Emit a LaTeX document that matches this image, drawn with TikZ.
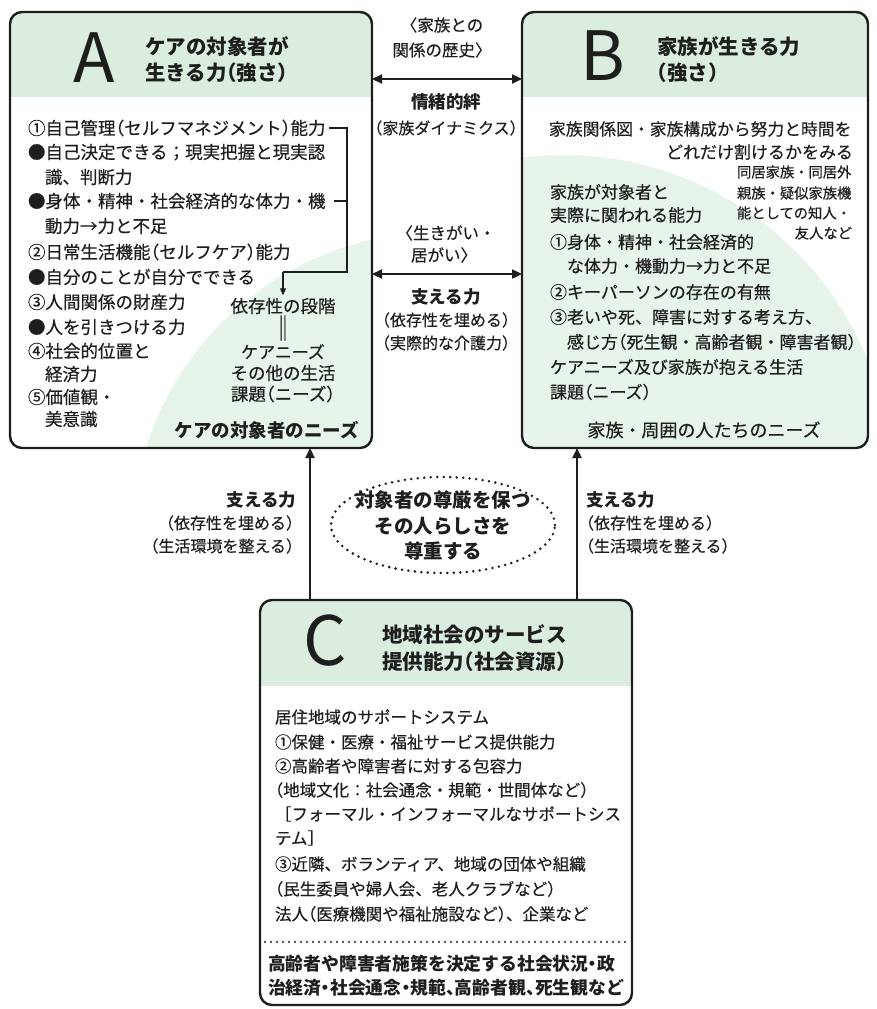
\documentclass[tikz,border=0pt]{standalone}
\usepackage{fontspec}
\setmainfont{Noto Sans CJK JP}
\usetikzlibrary{arrows.meta}
\definecolor{band}{RGB}{219,237,223}
\definecolor{blob}{RGB}{231,244,234}
\definecolor{ink}{RGB}{30,30,30}
\newcommand{\LP}{{\addfontfeature{RawFeature=+halt}（}}
\newcommand{\RP}{{\addfontfeature{RawFeature=+halt}）}}
\newcommand{\HALT}{\addfontfeature{RawFeature=+halt}}
\begin{document}
\begin{tikzpicture}[x=1pt,y=-1pt,
  every node/.style={inner sep=0pt, outer sep=0pt, text=ink},
  t/.style={font=\fontsize{#1}{#1}\selectfont\addfontfeature{FakeBold=0.35}, text height={0.88*#1pt}, text depth={0.12*#1pt}},
  tb/.style={font=\fontsize{#1}{#1}\selectfont\bfseries, text height={0.88*#1pt}, text depth={0.12*#1pt}},
  big/.style={font=\fontsize{68}{68}\selectfont, anchor=base},
  box/.style={draw=ink, line width=2.4pt, rounded corners=12pt},
  conn/.style={draw=ink, line width=2.3pt, -{Triangle[length=10pt,width=9pt]}},
  dconn/.style={draw=ink, line width=2.3pt, {Triangle[length=10pt,width=9pt]}-{Triangle[length=10pt,width=9pt]}},
  brk/.style={draw=ink, line width=1.2pt},
  dots/.style={draw=ink, line width=2.8pt, line cap=round, dash pattern=on 0pt off 6.5pt}
]
\useasboundingbox (0,0) rectangle (876,1009);
\fill[white] (0,0) rectangle (876,1009);

% ---------- backgrounds ----------
\begin{scope}
  \clip[rounded corners=12pt] (10,12) rectangle (372,448);
  \fill[band] (10,12) rectangle (372,97);
  \fill[blob] (440,540) circle[radius=308pt];
\end{scope}
\begin{scope}
  \clip[rounded corners=12pt] (522,12) rectangle (868,448);
  \fill[band] (522,12) rectangle (868,97);
  \fill[blob] (563,484) circle[radius=329pt];
\end{scope}
\begin{scope}
  \clip[rounded corners=12pt] (260,600) rectangle (632,1005);
  \fill[band] (260,600) rectangle (632,686);
\end{scope}

% ---------- boxes ----------
\node[box, minimum width=362pt, minimum height=436pt] (A) at (191,230) {};
\node[box, minimum width=346pt, minimum height=436pt] (B) at (695,230) {};
\node[box, minimum width=372pt, minimum height=405pt] (C) at (446,802.5) {};

% ---------- box A ----------
\node[big] (Al) at (94.5,82) {A};
\node[tb=20.5, anchor=west] (At1) at (145,47) {ケアの対象者が};
\node[tb=20.5, anchor=west] (At2) at (145,73) {生きる力\LP 強さ\RP};

\node[t=17.5, anchor=west] (a1) at (28,128) {①自己管理\LP セルフマネジメント\RP 能力};
\node[t=17.5, anchor=west] (a2) at (28,152) {●自己決定できる；現実把握と現実認};
\node[t=17.5, anchor=west] (a3) at (45,177) {識、判断力};
\node[t=17.5, anchor=west] (a4) at (28,201) {●身体・精神・社会経済的な体力・機};
\node[t=17.5, anchor=west] (a5) at (45,226) {動力→力と不足};
\node[t=17.5, anchor=west] (a6) at (28,252) {②日常生活機能\LP セルフケア\RP 能力};
\node[t=17.5, anchor=west] (a7) at (28,277) {●自分のことが自分でできる};
\node[t=17.5, anchor=west] (a8) at (28,302) {③人間関係の財産力};
\node[t=17.5, anchor=west] (a9) at (28,327) {●人を引きつける力};
\node[t=17.5, anchor=west] (a10) at (28,351) {④社会的位置と};
\node[t=17.5, anchor=west] (a11) at (45,374) {経済力};
\node[t=17.5, anchor=west] (a12) at (28,397) {⑤価値観・};
\node[t=17.5, anchor=west] (a13) at (45,419) {美意識};

\node[t=17.5] (dep) at (283,306) {依存性の段階};
\node[t=25] (eq) at (283,328) {‖};
\node[t=17] (cn) at (283,352) {ケアニーズ};
\node[t=17.5] (ot) at (283,373) {その他の生活};
\node[t=17.5] (kd) at (283,394) {課題\LP ニーズ\RP};
\node[tb=18.5] (An) at (267,430) {ケアの対象者のニーズ};

\coordinate (k0) at (329,128);
\coordinate (k1) at (347,128);
\coordinate (k2) at (334,201);
\coordinate (k3) at (347,201);
\coordinate (k4) at (347,272);
\coordinate (k5) at (283,272);
\draw[brk] (k0) -- (k1) -- (k4) -- (k5);
\draw[brk] (k2) -- (k3);
\draw[brk, -{Triangle[length=7pt,width=6pt]}] (k5) -- ([yshift=2pt]dep.north);

% ---------- box B ----------
\node[big] (Bl) at (602.5,80) {B};
\node[tb=20.5, anchor=west] (Bt1) at (657,47) {家族が生きる力};
\node[tb=20.5, anchor=west] (Bt2) at (657,73) {\LP 強さ\RP};

\node[t=16.8, anchor=west] (b1) at (549,129) {家族関係図・家族構成から努力と時間を};
\node[t=17, anchor=east] (b2) at (853,152) {どれだけ割けるかをみる};
\node[t=14.3, anchor=west] (b3) at (737,172) {同居家族・同居外};
\node[t=14.3, anchor=west] (b4) at (737,193) {親族・疑似家族機};
\node[t=14.3, anchor=west] (b5) at (737,213) {能としての知人・};
\node[t=14.3, anchor=east] (b6) at (852,233) {友人など};
\node[t=17, anchor=west] (b7) at (550,192) {家族が対象者と};
\node[t=17, anchor=west] (b8) at (550,215) {実際に関われる能力};
\node[t=17, anchor=west] (b9) at (550,242) {①身体・精神・社会経済的};
\node[t=17, anchor=west] (b10) at (567,266) {な体力・機動力→力と不足};
\node[t=17, anchor=west] (b11) at (550,292) {②キーパーソンの存在の有無};
\node[t=17, anchor=west] (b12) at (550,317) {③老いや死、障害に対する考え方、};
\node[t=17, anchor=west] (b13) at (567,342) {感じ方\LP 死生観・高齢者観・障害者観\RP};
\node[t=17, anchor=west] (b14) at (550,367) {ケアニーズ及び家族が抱える生活};
\node[t=17, anchor=west] (b15) at (550,392) {課題\LP ニーズ\RP};
\node[t=18] (b16) at (704,430) {家族・周囲の人たちのニーズ};

% ---------- between A and B ----------
\node[t=16.5] (m1) at (442,25) {〈家族との};
\node[t=16.5] (m2) at (442,50) {関係の歴史〉};
\node[tb=17.5] (m3) at (446,102) {情緒的絆};
\node[t=16] (m4) at (446,128) {\LP 家族ダイナミクス\RP};
\node[t=16.5] (m5) at (446,233) {〈生きがい・};
\node[t=16.5] (m6) at (444,255) {居がい〉};
\node[tb=17.5] (m7) at (446,297) {支える力};
\node[t=16] (m8) at (446,320) {\LP 依存性を埋める\RP};
\node[t=16] (m9) at (446,343) {\LP 実際的な介護力\RP};

\coordinate (h1) at (446,79);
\coordinate (h2) at (446,274);
\draw[dconn] (A.east |- h1) -- (B.west |- h1);
\draw[dconn] (A.east |- h2) -- (B.west |- h2);

% ---------- between C and A/B ----------
\coordinate (v1) at (310,525);
\coordinate (v2) at (577,525);
\draw[conn] (C.north -| v1) -- (A.south -| v1);
\draw[conn] (C.north -| v2) -- (B.south -| v2);

\node[tb=17.5, anchor=east] (l1) at (296,500) {支える力};
\node[t=16, anchor=east] (l2) at (294,523) {\LP 依存性を埋める\RP};
\node[t=16, anchor=east] (l3) at (294,546) {\LP 生活環境を整える\RP};
\node[tb=17.5, anchor=west] (r1) at (586,500) {支える力};
\node[t=16, anchor=west] (r2) at (586,523) {\LP 依存性を埋める\RP};
\node[t=16, anchor=west] (r3) at (586,546) {\LP 生活環境を整える\RP};

\draw[dots] (443,525) ellipse[x radius=112pt, y radius=48pt];
\node[tb=19.5] (e1) at (443,500) {対象者の尊厳を保つ};
\node[tb=19.5] (e2) at (443,526) {その人らしさを};
\node[tb=19.5] (e3) at (443,551) {尊重する};

% ---------- box C ----------
\node[big] (Cl) at (325,665) {C};
\node[tb=20.5, anchor=west] (Ct1) at (382,635) {地域社会のサービス};
\node[tb=20.5, anchor=west] (Ct2) at (382,662) {提供能力\LP 社会資源\RP};

\node[t=16.5, anchor=west] (c1) at (275,717) {居住地域のサポートシステム};
\node[t=16.5, anchor=west] (c2) at (275,742) {①保健・医療・福祉サービス提供能力};
\node[t=16.5, anchor=west] (c3) at (275,766) {②高齢者や障害者に対する包容力};
\node[t=16.5, anchor=west] (c4) at (275,790) {\LP 地域文化：社会通念・規範・世間体など\RP};
\node[t=16.5, anchor=west] (c5) at (275,814) {［フォーマル・インフォーマルなサポートシス};
\node[t=16.5, anchor=west] (c6) at (275,838) {テム］};
\node[t=16.5, anchor=west] (c7) at (275,864) {③近隣、ボランティア、地域の団体や組織};
\node[t=16.5, anchor=west] (c8) at (275,889) {\LP 民生委員や婦人会、老人クラブなど\RP};
\node[t=16.5, anchor=west] (c9) at (275,914) {法人\LP 医療機関や福祉施設など\RP、企業など};

\coordinate (sep) at (446,942);
\draw[dots, line width=2.4pt, dash pattern=on 0pt off 6pt] ([xshift=5pt]C.west |- sep) -- ([xshift=-5pt]C.east |- sep);

\node[tb=17.8, anchor=west] (c10) at (268,964) {\HALT 高齢者や障害者施策を決定する社会状況・政};
\node[tb=17.8, anchor=west] (c11) at (268,988) {\HALT 治経済・社会通念・規範、高齢者観、死生観など};
\end{tikzpicture}
\end{document}
